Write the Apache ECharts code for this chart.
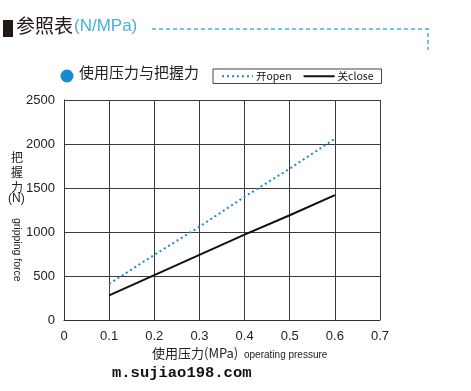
<!DOCTYPE html>
<html><head><meta charset="utf-8">
<script src="https://cdn.jsdelivr.net/npm/echarts@6/dist/echarts.min.js"></script>
<style>html,body{margin:0;padding:0;background:#fff}#c{width:471px;height:391px}</style>
</head><body><div id="c"></div>
<script>
var pressures = [0.1, 0.2, 0.3, 0.4, 0.5, 0.6];
var openForce = [410, 740, 1060, 1400, 1720, 2060];
var closeForce = [280, 510, 740, 970, 1190, 1420];
var seriesNames = ['开open', '关close'];
var xTicks = [0, 0.1, 0.2, 0.3, 0.4, 0.5, 0.6, 0.7];
var yTicks = [0, 500, 1000, 1500, 2000, 2500];

var chart = echarts.init(document.getElementById('c'));
var font = '"Noto Sans CJK SC", "Liberation Sans", sans-serif';
function pairs(xs, ys){ return xs.map(function(x,i){return [x, ys[i]];}); }
function pick(arr, v){ var t = arr.filter(function(a){return Math.abs(a-v)<1e-6;}); return t.length? String(t[0]) : ''; }
chart.setOption({
  animation: false,
  backgroundColor: '#fff',
  grid: {left: 64, right: 91, top: 100, bottom: 71},
  legend: {
    left: 213, top: 69,
    data: seriesNames,
    itemWidth: 31, itemHeight: 10, itemGap: 11,
    itemStyle: {opacity: 0},
    borderColor: '#444', borderWidth: 1, padding: [2, 8, 2, 8],
    textStyle: {fontFamily: font, fontSize: 10.5, color: '#111', padding: [0,0,0,-2]}
  },
  xAxis: {
    type: 'value', min: 0, max: 0.7, interval: 0.1,
    axisLine: {show: true, lineStyle: {color: '#333'}},
    axisTick: {show: false},
    splitLine: {show: true, lineStyle: {color: '#3a3a3a', width: 1}},
    axisLabel: {fontFamily: '"Liberation Sans", sans-serif', fontSize: 13, color: '#222', margin: 10,
      formatter: function(v){ return pick(xTicks, v); }}
  },
  yAxis: {
    type: 'value', min: 0, max: 2500, interval: 500,
    axisLine: {show: true, lineStyle: {color: '#333'}},
    axisTick: {show: false},
    splitLine: {show: true, lineStyle: {color: '#3a3a3a', width: 1}},
    axisLabel: {fontFamily: '"Liberation Sans", sans-serif', fontSize: 13, color: '#222', margin: 9,
      formatter: function(v){ return pick(yTicks, v); }}
  },
  series: [
    {name: seriesNames[0], type: 'line', data: pairs(pressures, openForce), symbol: 'none',
     lineStyle: {color: '#1a8ad0', width: 2, type: [2, 3]}, itemStyle: {color: '#1a8ad0'}},
    {name: seriesNames[1], type: 'line', data: pairs(pressures, closeForce), symbol: 'none',
     lineStyle: {color: '#111', width: 2}, itemStyle: {color: '#111'}}
  ],
  graphic: [
    {type: 'rect', shape: {x: 3, y: 20, width: 10, height: 17}, style: {fill: '#231815'}},
    {type: 'text', left: 16, top: 16, style: {text: '参照表', font: '19px ' + font, fill: '#231815'}},
    {type: 'text', left: 74, top: 18, style: {text: '(N/MPa)', font: '17px "Liberation Sans", sans-serif', fill: '#45aee0'}},
    {type: 'polyline', shape: {points: [[152, 29], [428, 29], [428, 50]]},
     style: {stroke: '#45aee0', lineWidth: 1.5, lineDash: [4, 3], fill: null}},
    {type: 'circle', shape: {cx: 67, cy: 76, r: 6.5}, style: {fill: '#1a8ad0'}},
    {type: 'text', left: 79, top: 65, style: {text: '使用压力与把握力', font: '15px ' + font, fill: '#222'}},
    {type: 'text', left: 11, top: 150, style: {text: '把\n握\n力', font: '12px ' + font, fill: '#222', lineHeight: 15}},
    {type: 'text', left: 8, top: 193, style: {text: '(N)', font: '12px "Liberation Sans", sans-serif', fill: '#222'}},
    {type: 'text', x: 17, y: 218, rotation: -Math.PI/2,
     style: {text: 'gripping force', font: '10.5px "Liberation Sans", sans-serif', fill: '#222', textVerticalAlign: 'middle'}},
    {type: 'text', left: 152, top: 347, style: {text: '使用压力(MPa)', font: '13px ' + font, fill: '#222'}},
    {type: 'text', left: 244, top: 350, style: {text: 'operating pressure', font: '10px "Liberation Sans", sans-serif', fill: '#222'}},
    {type: 'text', left: 112, top: 365, style: {text: 'm.sujiao198.com', font: 'bold 15.5px "Liberation Mono", monospace', fill: '#111'}}
  ]
});
</script></body></html>
